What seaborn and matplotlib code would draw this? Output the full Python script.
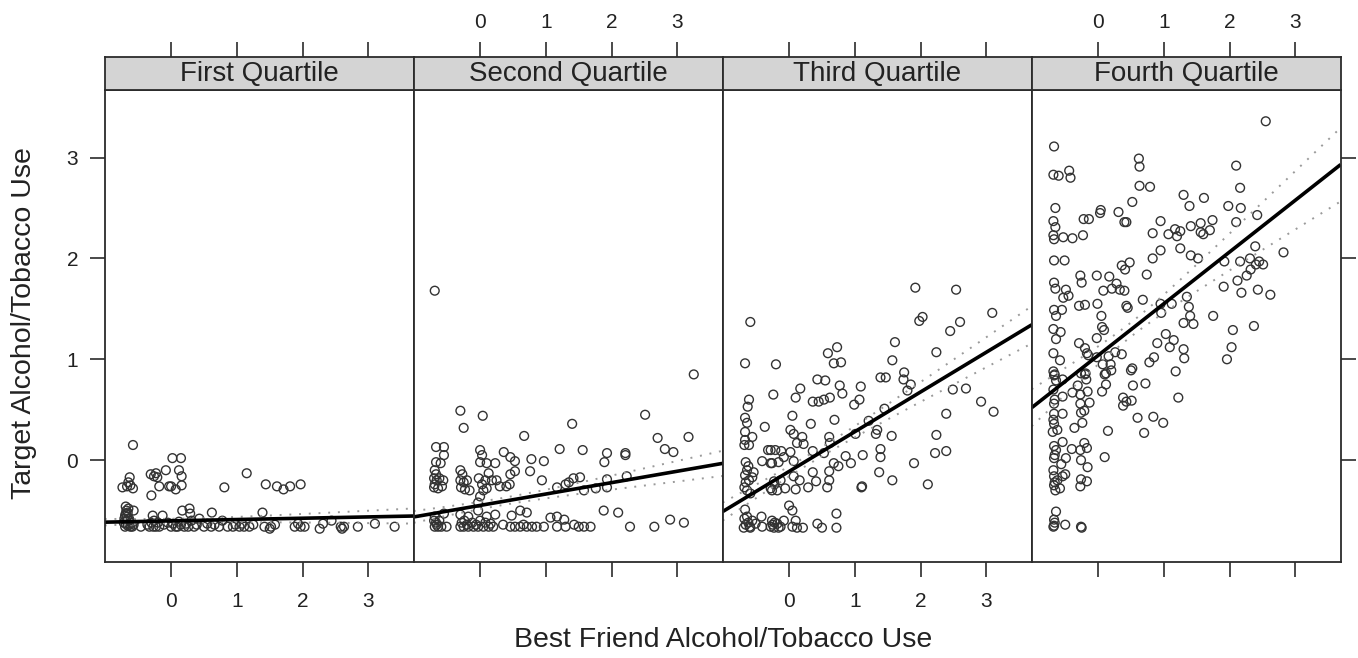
import numpy as np
import pandas as pd
import matplotlib
matplotlib.use("Agg")
import matplotlib.pyplot as plt
import seaborn as sns

# Panel titles
quartiles = ["First Quartile", "Second Quartile", "Third Quartile", "Fourth Quartile"]

# Data (best friend use, target use)
q1_x = [-0.58, 0.02, 0.15, -0.74, -0.67, -0.63, -0.62, -0.58, -0.65, -0.31, -0.23, -0.21, -0.26,
        -0.08, -0.18, -0.03, 0.00, 0.07, 0.16, 0.12, 0.16, -0.30, 0.81, 1.15, 1.44, 1.61, 1.71,
        1.81, 1.97,
        -0.69, -0.68, -0.57, -0.69, -0.67, -0.64, -0.69, -0.62, -0.57, -0.46, -0.36, -0.28, -0.26,
        -0.23, -0.13, -0.11, 0.00, 0.07, 0.12, 0.17, 0.20, 0.28, 0.29, 0.31, 0.35, 0.43, 0.50,
        0.62, 0.61, 0.73, 0.78, 0.86, 0.94, 1.04, 1.11, 1.19, 1.39, 1.42, 1.50, 1.58, 1.88, 1.93,
        2.03, 2.26, 2.31, 2.44, 2.60, 2.63, 2.84, 3.10, 3.40,
        -0.72, -0.70, -0.66, -0.64, -0.60, -0.71, -0.66, -0.63, -0.68, -0.59, -0.65, -0.70,
        -0.33, -0.30, -0.27, -0.20, -0.18, -0.05, 0.03, 0.10, 0.15, 0.23, 0.26, 0.39, 0.55, 0.66,
        0.98, 1.08, 1.25, 1.52, 1.97, 2.58]
q1_y = [0.15, 0.02, 0.02, -0.27, -0.26, -0.17, -0.25, -0.28, -0.22, -0.14, -0.13, -0.17, -0.16,
        -0.10, -0.26, -0.26, -0.26, -0.29, -0.25, -0.10, -0.16, -0.35, -0.27, -0.13, -0.24, -0.26,
        -0.29, -0.26, -0.24,
        -0.46, -0.50, -0.50, -0.53, -0.56, -0.60, -0.63, -0.66, -0.64, -0.66, -0.64, -0.55, -0.60,
        -0.66, -0.55, -0.64, -0.66, -0.66, -0.61, -0.50, -0.66, -0.48, -0.53, -0.60, -0.66, -0.58,
        -0.66, -0.52, -0.66, -0.66, -0.60, -0.66, -0.66, -0.66, -0.66, -0.66, -0.52, -0.66, -0.68,
        -0.64, -0.66, -0.63, -0.66, -0.68, -0.63, -0.60, -0.68, -0.66, -0.66, -0.63, -0.66,
        -0.62, -0.66, -0.65, -0.58, -0.62, -0.58, -0.52, -0.64, -0.60, -0.66, -0.48, -0.55,
        -0.66, -0.62, -0.66, -0.62, -0.66, -0.62, -0.63, -0.66, -0.64, -0.63, -0.66, -0.64, -0.63,
        -0.64, -0.64, -0.63, -0.64, -0.66, -0.66, -0.66]

q2_x = [-0.69, 3.25, -0.30, 0.04, -0.25, 1.40, 2.51, 0.67, 2.70, 3.17, 1.21, 1.56, 2.81, 2.94,
        1.93, 1.89, 2.21, 2.21, -0.67, -0.55, -0.67, -0.60, -0.55, 0.00, 0.03, 0.00, 0.10, 0.23,
        0.36, 0.46, 0.53, 0.78, 0.97, 0.13, 0.46, 0.53, 0.76, 0.94,
        -0.69, -0.67, -0.70, -0.66, -0.69, -0.62, -0.56, -0.70, -0.64, -0.58,
        -0.30, -0.27, -0.30, -0.25, -0.29, -0.20, -0.23, -0.16,
        -0.02, 0.03, 0.05, 0.00, 0.08, -0.03, 0.10, 0.18, 0.25, 0.30, 0.40, 0.45,
        1.17, 1.35, 1.42, 1.52, 1.58, 1.76, 1.93, 1.93, 2.23, 1.30, 1.88, 2.10,
        -0.69, -0.64, -0.59, -0.51, -0.30, -0.25, -0.18, -0.10, -0.03, 0.05, 0.13, 0.20, 0.46,
        0.53, 0.61, 0.71, 0.79, 0.86, 0.97, 1.17, 1.30, 1.43, 1.50, 1.58, 1.68, 2.28, 2.65, 2.89,
        3.10,
        -0.69, -0.55, -0.30, -0.18, -0.03, 0.10, 0.23, 0.48, 0.61, 0.71, 1.07, 1.17, 1.28,
        -0.67, -0.62, -0.70, -0.66, -0.28, -0.24, -0.20, -0.12, 0.00, 0.08, -0.06, 0.16, 0.35, 0.66]
q2_y = [1.68, 0.85, 0.49, 0.44, 0.32, 0.36, 0.45, 0.24, 0.22, 0.23, 0.11, 0.10, 0.11, 0.08,
        0.07, -0.02, 0.07, 0.05, 0.13, 0.13, -0.02, -0.03, 0.05, 0.10, 0.05, -0.02, -0.03, -0.03,
        0.08, 0.03, -0.01, 0.01, -0.01, -0.13, -0.14, -0.11, -0.11, -0.20,
        -0.10, -0.14, -0.18, -0.20, -0.24, -0.18, -0.20, -0.27, -0.28, -0.26,
        -0.10, -0.14, -0.20, -0.22, -0.27, -0.20, -0.29, -0.30,
        -0.18, -0.24, -0.30, -0.36, -0.20, -0.42, -0.28, -0.20, -0.20, -0.26, -0.26, -0.24,
        -0.27, -0.22, -0.18, -0.17, -0.30, -0.28, -0.27, -0.19, -0.16, -0.24, -0.50, -0.52,
        -0.66, -0.66, -0.66, -0.66, -0.66, -0.66, -0.66, -0.66, -0.66, -0.66, -0.66, -0.66, -0.66,
        -0.66, -0.66, -0.66, -0.66, -0.66, -0.66, -0.66, -0.66, -0.64, -0.66, -0.66, -0.66, -0.66,
        -0.66, -0.59, -0.62,
        -0.56, -0.53, -0.54, -0.56, -0.50, -0.56, -0.54, -0.55, -0.50, -0.52, -0.57, -0.56, -0.59,
        -0.62, -0.60, -0.60, -0.64, -0.62, -0.60, -0.64, -0.62, -0.60, -0.62, -0.64, -0.63, -0.64,
        -0.64]

q3_x = [-0.59, 1.92, 2.54, 3.09, -0.67, -0.20, 0.59, 0.73, 0.68, 0.79, 1.61, 1.57, 1.98, 2.03,
        2.60, 2.45, 2.24, 1.75, 1.74, 1.80, 1.85, 1.39, 1.47, 1.09, 0.43, 0.55, 0.17, 0.10, -0.24,
        0.77, 0.81, 0.36, 0.45, 0.53, 0.62, 0.99, 1.07, 1.45, 2.39, 2.49, 2.69, 2.92, 3.11,
        0.05, 0.69, -0.37, 0.33, 1.21, 1.32, 1.34, 1.56, 2.24, 2.22, 2.39, 1.01, 0.61, 0.62, 0.02,
        0.07, 0.20, 0.22, 0.12, -0.67, -0.61, -0.56, -0.61, -0.63, -0.67, -0.64,
        -0.28, -0.21, -0.12, 0.02, 0.07, 0.36, 0.53, 0.86, 0.94, 1.12, 1.39, 1.39, 1.90,
        -0.41, -0.28, -0.16, -0.08, 0.75, 0.68, 0.36, 0.61, 1.37, 1.57, 2.11, 1.10, 1.11,
        0.61, 0.58, 0.41, 0.29, 0.16, 0.07, -0.06, 0.10,
        -0.67, -0.68, -0.66, -0.64, -0.67, -0.61, -0.68, -0.56, -0.54, -0.64, -0.59, -0.66, -0.62,
        -0.32, -0.26, -0.23, -0.28, -0.18, -0.13, -0.26, -0.22,
        -0.67, -0.64, -0.56, -0.59, -0.69, -0.51, -0.41, -0.42, -0.26, -0.23, -0.18, -0.13, -0.08,
        0.00, 0.05, 0.05, 0.10, 0.12, 0.21, 0.43, 0.50, 0.72, 0.72,
        -0.66, -0.62, -0.68, -0.60, -0.28, -0.22, -0.16, -0.25]
q3_y = [1.37, 1.71, 1.69, 1.46, 0.96, 0.95, 1.06, 1.12, 0.96, 0.97, 1.17, 0.99, 1.38, 1.42,
        1.37, 1.28, 1.07, 0.87, 0.80, 0.69, 0.75, 0.82, 0.82, 0.73, 0.80, 0.79, 0.71, 0.62, 0.65,
        0.74, 0.66, 0.58, 0.58, 0.60, 0.62, 0.55, 0.60, 0.51, 0.46, 0.70, 0.71, 0.58, 0.48,
        0.44, 0.40, 0.33, 0.36, 0.39, 0.26, 0.30, 0.24, 0.25, 0.07, 0.09, 0.26, 0.23, 0.17, 0.30,
        0.26, 0.23, 0.16, 0.17, 0.20, 0.15, 0.23, 0.60, 0.53, 0.42, 0.37,
        0.10, 0.10, 0.09, 0.08, -0.01, 0.09, 0.07, 0.04, -0.03, 0.05, 0.11, 0.03, -0.03,
        -0.01, -0.03, -0.02, 0.03, -0.06, -0.03, -0.12, -0.11, -0.12, -0.20, -0.24, -0.27, -0.26,
        -0.20, -0.27, -0.21, -0.27, -0.20, -0.16, -0.28, -0.29,
        0.28, 0.15, -0.02, -0.10, -0.15, -0.20, -0.27, -0.17, -0.12, -0.30, -0.33, -0.22, -0.06,
        0.10, -0.03, -0.21, -0.28, -0.30, -0.20, -0.30, -0.24,
        -0.49, -0.56, -0.60, -0.67, -0.67, -0.63, -0.66, -0.56, -0.60, -0.67, -0.63, -0.66, -0.60,
        -0.45, -0.50, -0.66, -0.60, -0.67, -0.67, -0.63, -0.67, -0.53, -0.67,
        -0.64, -0.62, -0.58, -0.66, -0.66, -0.62, -0.67, -0.64]

q4_x = [2.55, -0.67, -0.68, -0.60, -0.44, -0.42, 0.62, 0.63, 0.63, 0.79, 2.10, 2.16, 0.52, 1.30,
        1.39, 1.61, 1.98, 2.17, 2.42, -0.65, 0.04, 0.03, 0.31, -0.22, -0.14, 0.40, 0.43, 0.95,
        -0.68, -0.65, 0.83, 1.07, 1.17, 1.25, 1.20, 1.41, 1.56, 1.60, 1.70, 1.74, 1.56, 2.10,
        -0.68, -0.67, -0.53, -0.39, -0.23, 0.95, 1.25, 1.41, 1.52, 0.83, 2.39, 2.82, 1.92, 2.16,
        2.31, 2.45, 2.51, 2.40, -0.67, -0.51, 0.36, 0.48, 0.41, 0.74, -0.27, -0.25, -0.02, 0.17,
        0.28, 0.33, 0.40, 0.21, 0.08, -0.67, -0.65, -0.49, -0.45, -0.53, 1.91, 2.12, 2.18, 2.26,
        2.32, 2.43, 2.62, 1.35, 1.38, 1.40, 1.75, 1.30, 1.45, 1.12, 0.95, 0.96, 0.68, -0.29,
        -0.20, -0.01, 0.43, 0.45, -0.67, -0.64, -0.55, 0.05, 0.06, 0.09, -0.02, -0.68, -0.57,
        -0.64, 2.37, 2.05, 2.03, 1.96, 1.03, 1.15, 1.09, 0.90, 1.30, 1.31, 0.85, 0.78, 1.18,
        -0.29, -0.20, -0.15, -0.17, -0.02, 0.16, 0.19, 0.26, 0.36, 0.07, 0.12, 0.52, -0.68, -0.58,
        -0.68, -0.66, -0.26, -0.20,
        -0.67, -0.64, -0.54, -0.19, 0.10, 0.20, 0.50, -0.31, -0.18, 0.12, 0.06, 0.53, 0.72, 1.22,
        -0.54, -0.39, -0.27, -0.16, -0.13, -0.27, -0.21, -0.26, 0.38, 0.43, 0.51, 0.38, -0.67,
        -0.67, -0.54, -0.67, -0.62, -0.69, 0.60, 0.84, 0.99, 0.70, -0.24, -0.36, 0.15, 0.10,
        -0.54, -0.67, -0.64, -0.67, -0.56, -0.40, -0.27, -0.21, -0.17, -0.26, -0.49, -0.16,
        -0.67, -0.62, -0.54, -0.50, -0.67, -0.58, -0.26, -0.17, -0.27, -0.64, -0.67, -0.67,
        -0.50, -0.26, -0.25,
        -0.68, -0.66, -0.68, -0.66, -0.68, -0.66, -0.65, -0.68, -0.66]
q4_y = [3.36, 3.11, 2.83, 2.82, 2.87, 2.80, 2.99, 2.91, 2.72, 2.71, 2.92, 2.70, 2.56, 2.63,
        2.52, 2.60, 2.52, 2.50, 2.43, 2.50, 2.48, 2.45, 2.46, 2.39, 2.39, 2.36, 2.36, 2.37,
        2.37, 2.31, 2.25, 2.24, 2.29, 2.27, 2.22, 2.32, 2.35, 2.24, 2.28, 2.38, 2.26, 2.36,
        2.23, 2.19, 2.21, 2.20, 2.23, 2.08, 2.10, 2.03, 2.00, 2.00, 2.12, 2.06, 1.97, 1.97,
        2.00, 1.97, 1.94, 1.94, 1.98, 1.98, 1.93, 1.96, 1.89, 1.84, 1.83, 1.76, 1.83, 1.82,
        1.75, 1.69, 1.68, 1.70, 1.68, 1.76, 1.70, 1.69, 1.63, 1.61, 1.72, 1.78, 1.66, 1.83,
        1.89, 1.69, 1.64, 1.62, 1.52, 1.43, 1.43, 1.36, 1.35, 1.55, 1.55, 1.46, 1.59, 1.53,
        1.54, 1.55, 1.53, 1.51, 1.49, 1.43, 1.49, 1.43, 1.32, 1.29, 1.21, 1.30, 1.27,
        1.20, 1.33, 1.29, 1.12, 1.00, 1.25, 1.19, 1.12, 1.16, 1.10, 1.01, 1.02, 0.97, 0.88,
        1.16, 1.11, 1.04, 1.06, 1.02, 1.03, 0.95, 1.07, 1.05, 0.95, 0.86, 0.91, 1.06, 0.99,
        0.88, 0.85, 0.86, 0.85,
        0.84, 0.79, 0.80, 0.86, 0.85, 0.89, 0.89, 0.74, 0.80, 0.75, 0.68, 0.74, 0.76, 0.62,
        0.63, 0.67, 0.65, 0.68, 0.57, 0.56, 0.49, 0.47, 0.62, 0.58, 0.59, 0.54, 0.56,
        0.46, 0.46, 0.36, 0.30, 0.28, 0.42, 0.43, 0.37, 0.27, 0.37, 0.32, 0.29, 0.03,
        0.18, 0.14, 0.10, 0.02, -0.04, 0.11, 0.10, 0.17, 0.12, 0.00, 0.02, -0.07,
        -0.16, -0.20, -0.16, -0.14, -0.25, -0.28, -0.19, -0.21, -0.26, -0.51, -0.59, -0.65,
        -0.64, -0.66, -0.67,
        0.70, 0.60, 0.40, 0.05, -0.10, -0.22, -0.30, -0.66, -0.62]

# Fitted lines
fit_intercept = [-0.602, -0.449, -0.112, 1.038]
fit_slope = [0.013, 0.113, 0.394, 0.513]
# Dotted confidence bands: centre, half width at centre, half width at right edge
band_xbar = [0.2, 0.3, 0.4, 0.5]
band_min = [0.02, 0.035, 0.045, 0.07]
band_edge = [0.075, 0.125, 0.185, 0.365]

x_ticks = [0, 1, 2, 3]
y_ticks = [0, 1, 2, 3]
x_lim = (-1.01, 3.69)
y_lim = (-1.01, 3.67)

df = pd.concat([
    pd.DataFrame({"friend": xs, "target": ys, "quartile": q})
    for q, xs, ys in zip(quartiles, [q1_x, q2_x, q3_x, q4_x], [q1_y, q2_y, q3_y, q4_y])
], ignore_index=True)

sns.set_theme(style="white")
plt.rcParams['font.family'] = ['Liberation Sans', 'DejaVu Sans']

W, H = 1358, 658
fig = plt.figure(figsize=(W / 100, H / 100), dpi=100)

frame_col = "#2b2b2b"
left0, pw = 104.7, 309.0
p_top, p_bot = 90.0, 562.0
s_top = 57.0

for i, q in enumerate(quartiles):
    left = (left0 + i * pw) / W
    ax = fig.add_axes([left, (H - p_bot) / H, pw / W, (p_bot - p_top) / H])
    sax = fig.add_axes([left, (H - p_top) / H, pw / W, (p_top - s_top) / H])

    sub = df[df["quartile"] == q]
    sns.scatterplot(data=sub, x="friend", y="target", ax=ax, marker="o", s=40,
                    color="none", edgecolor="#333333", linewidth=1.0, legend=False)
    ax.collections[-1].set_facecolor("none")

    xx = np.linspace(x_lim[0], x_lim[1], 200)
    yy = fit_intercept[i] + fit_slope[i] * xx
    c = np.sqrt(band_edge[i] ** 2 - band_min[i] ** 2) / (x_lim[1] - band_xbar[i])
    hw = np.sqrt(band_min[i] ** 2 + (c * (xx - band_xbar[i])) ** 2)
    ax.plot(xx, yy + hw, color="#9a9a9a", lw=1.4, ls=(0, (1, 4)))
    ax.plot(xx, yy - hw, color="#9a9a9a", lw=1.4, ls=(0, (1, 4)))
    ax.plot(xx, yy, color="black", lw=2.6, solid_capstyle="butt")

    ax.set_xlim(x_lim)
    ax.set_ylim(y_lim)
    ax.set_xlabel("")
    ax.set_ylabel("")
    ax.set_xticks(x_ticks)
    ax.set_yticks(y_ticks)
    for sp in ax.spines.values():
        sp.set_color(frame_col)
        sp.set_linewidth(1.3)
    ax.tick_params(axis="both", direction="out", length=11, width=1.2, color=frame_col,
                   labelsize=15, labelcolor="#222222", pad=8)
    ax.tick_params(axis="x", top=False, bottom=True, labelbottom=(i in (0, 2)), pad=10.5)
    ax.tick_params(axis="y", left=(i == 0), labelleft=(i == 0), right=(i == 3), labelright=False)

    # strip with top axis ticks
    sax.set_facecolor("#d4d4d4")
    sax.set_xlim(x_lim)
    sax.set_ylim(0, 1)
    sax.set_xticks(x_ticks)
    sax.set_yticks([])
    sax.xaxis.tick_top()
    sax.tick_params(axis="x", direction="out", length=11, width=1.2, color=frame_col,
                    labelsize=15, labelcolor="#222222", pad=7, labeltop=(i in (1, 3)),
                    bottom=False, labelbottom=False)
    for sp in sax.spines.values():
        sp.set_color(frame_col)
        sp.set_linewidth(1.3)
    sax.text(0.5, 0.47, q, transform=sax.transAxes, ha="center", va="center",
             fontsize=20, color="#222222")

fig.text((left0 + 2 * pw) / W, (H - 640) / H, "Best Friend Alcohol/Tobacco Use",
         ha="center", va="center", fontsize=20.5, color="#222222")
fig.text(24 / W, (H - 323) / H, "Target Alcohol/Tobacco Use", rotation=90,
         ha="center", va="center", fontsize=20.5, color="#222222")

fig.savefig("out.png", dpi=100)
